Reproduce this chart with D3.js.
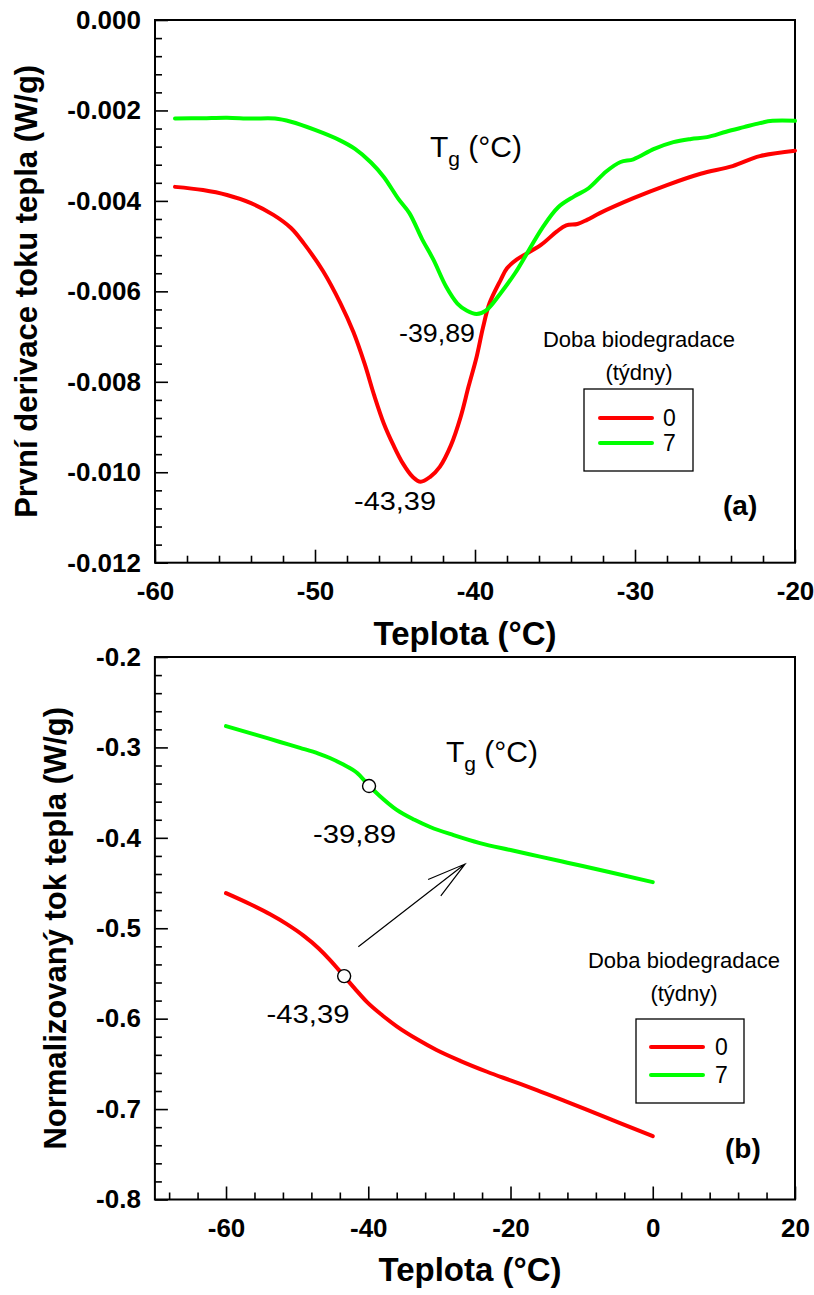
<!DOCTYPE html>
<html><head><meta charset="utf-8">
<script src="https://cdn.jsdelivr.net/npm/d3@7"></script>
<style>
body{margin:0;background:#fff}
svg{display:block}
text{font-family:"Liberation Sans",Arial,sans-serif;fill:#000}
</style>
</head><body>
<svg id="c" width="814" height="1295"></svg>
<script>
// ---------- data ----------
const seriesNames = ["0", "7"];
const seriesColors = ["#ff0000", "#00ff00"];
const legendTitle = ["Doba biodegradace", "(týdny)"];

// Panel (a): first derivative of heat flow
const derivTemp0 = [-58.75,-57,-55.5,-54,-52.6,-51.5,-50.7,-49.5,-48.4,-47.6,-46.9,-46.3,-45.7,-45.1,-44.5,-43.9,-43.4,-42.8,-42.2,-41.5,-40.9,-40.4,-39.9,-39.5,-39.1,-38.4,-38.0,-37.4,-35.9,-34.9,-34.3,-33.6,-33.0,-32.2,-30.1,-28.0,-25.9,-23.9,-22.2,-20.0];
const derivVal0  = [-0.00369,-0.00376,-0.00387,-0.00405,-0.00431,-0.0046,-0.00494,-0.00555,-0.00627,-0.0069,-0.0076,-0.0083,-0.00892,-0.0094,-0.00981,-0.0101,-0.01021,-0.0101,-0.00988,-0.0094,-0.00878,-0.0081,-0.00745,-0.0068,-0.00627,-0.00575,-0.00549,-0.0053,-0.00498,-0.00468,-0.00454,-0.00451,-0.00442,-0.00427,-0.00394,-0.00365,-0.0034,-0.00323,-0.00301,-0.00289];
const derivTemp7 = [-58.75,-57,-55.5,-54,-52.5,-51.5,-50,-48.5,-47.5,-46.5,-45.7,-44.8,-44.1,-43.3,-42.6,-41.8,-41.1,-40.5,-39.9,-39.3,-38.4,-37.5,-36.75,-35.8,-34.8,-33.8,-32.9,-31.8,-30.9,-30.1,-28.8,-27.6,-26.5,-25.5,-24.3,-23.2,-22.2,-21.4,-20.0];
const derivVal7  = [-0.00218,-0.00217,-0.00216,-0.00218,-0.00218,-0.00225,-0.00243,-0.00265,-0.00285,-0.00315,-0.00347,-0.00395,-0.00427,-0.00485,-0.0053,-0.0059,-0.00627,-0.00643,-0.0065,-0.00642,-0.00604,-0.0056,-0.00516,-0.0046,-0.00414,-0.0039,-0.00372,-0.00335,-0.00314,-0.00308,-0.00285,-0.0027,-0.00263,-0.00259,-0.00247,-0.00237,-0.00228,-0.00223,-0.00223];

// Panel (b): normalized heat flow
const flowTemp0 = [-60,-56.5,-53.8,-51.5,-49.1,-47,-45.4,-43.4,-41.8,-40.2,-38,-36,-33,-30.4,-27,-23.3,-20,-16.3,-12.5,-9.3,-4.6,0];
const flowVal0  = [-0.4612,-0.4738,-0.4846,-0.4952,-0.5082,-0.5221,-0.5349,-0.5529,-0.5676,-0.5815,-0.5965,-0.6085,-0.6234,-0.6347,-0.6469,-0.6587,-0.6683,-0.679,-0.6906,-0.7006,-0.7156,-0.73];
const flowTemp7 = [-60,-56,-52.4,-49.6,-47,-45.4,-43.5,-41.6,-39.85,-38.5,-36,-33.5,-31.3,-28,-24.3,-20,-16,-12,-6,0];
const flowVal7  = [-0.2765,-0.2855,-0.294,-0.3005,-0.3068,-0.3117,-0.319,-0.328,-0.3427,-0.3528,-0.369,-0.38,-0.388,-0.397,-0.4058,-0.4135,-0.4205,-0.4275,-0.438,-0.449];

// Tg markers / labels
const tgTemps = [-43.39, -39.89];
const tgLabels = ["-43,39", "-39,89"];
const tgFlowVals = [-0.5529, -0.3427];
const arrowFrom = [-41.4, -0.5205];
const arrowTo = [-26.4, -0.429];

// ticks
const xTicksA = [-60,-50,-40,-30,-20];
const yTicksA = [0,-0.002,-0.004,-0.006,-0.008,-0.010,-0.012];
const xTicksB = [-60,-40,-20,0,20];
const yTicksB = [-0.2,-0.3,-0.4,-0.5,-0.6,-0.7,-0.8];

// ---------- drawing ----------
const svg = d3.select("#c");
const zip = (xs, ys) => xs.map((x, i) => [x, ys[i]]);
const FONT = '"Liberation Sans",Arial,sans-serif';

function panel(cfg) {
  const x = d3.scaleLinear().domain(cfg.xDomain).range([cfg.left, cfg.right]);
  const y = d3.scaleLinear().domain(cfg.yDomain).range([cfg.bottom, cfg.top]);
  const g = svg.append("g");

  const styleTicks = s => s.selectAll("line").attr("stroke", "#000").attr("stroke-width", 1.6);
  const styleText = s => s.selectAll("text").attr("font-size", 26).attr("font-weight", "bold")
      .attr("font-family", FONT).attr("fill", "#000");
  // minor ticks
  g.append("g").attr("transform", `translate(0,${cfg.bottom})`)
    .call(d3.axisBottom(x).tickValues(cfg.xMinor).tickSizeInner(-7).tickSizeOuter(0).tickFormat(""))
    .call(s => s.select(".domain").remove()).call(styleTicks);
  g.append("g").attr("transform", `translate(${cfg.left},0)`)
    .call(d3.axisLeft(y).tickValues(cfg.yMinor).tickSizeInner(-7).tickSizeOuter(0).tickFormat(""))
    .call(s => s.select(".domain").remove()).call(styleTicks);
  // major ticks
  g.append("g").attr("transform", `translate(0,${cfg.bottom})`)
    .call(d3.axisBottom(x).tickValues(cfg.xTicks).tickSizeInner(-13).tickSizeOuter(0).tickPadding(19).tickFormat(cfg.xFmt))
    .call(s => s.select(".domain").remove()).call(styleTicks).call(styleText);
  g.append("g").attr("transform", `translate(${cfg.left},0)`)
    .call(d3.axisLeft(y).tickValues(cfg.yTicks).tickSizeInner(-13).tickSizeOuter(0).tickPadding(14).tickFormat(cfg.yFmt))
    .call(s => s.select(".domain").remove()).call(styleTicks).call(styleText);

  // frame
  g.append("rect").attr("x", cfg.left).attr("y", cfg.top)
    .attr("width", cfg.right - cfg.left).attr("height", cfg.bottom - cfg.top)
    .attr("fill", "none").attr("stroke", "#000").attr("stroke-width", 2);

  // axis titles
  g.append("text").attr("x", cfg.xTitleX).attr("y", cfg.xTitleY)
    .attr("text-anchor", "middle").attr("font-size", 33).attr("font-weight", "bold")
    .text("Teplota (°C)");
  g.append("text")
    .attr("transform", `translate(${cfg.yTitleX},${(cfg.top + cfg.bottom) / 2}) rotate(-90)`)
    .attr("text-anchor", "middle").attr("font-size", 31).attr("font-weight", "bold")
    .text(cfg.yTitle);

  // curves
  const line = d3.line().x(d => x(d[0])).y(d => y(d[1])).curve(cfg.curve);
  cfg.series.forEach((s, i) => {
    g.append("path").datum(s).attr("d", line)
      .attr("fill", "none").attr("stroke", seriesColors[i]).attr("stroke-width", 4)
      .attr("stroke-linejoin", "round").attr("stroke-linecap", "round");
  });
  return {x, y, g};
}

const fmtInt = d => String(d);

// Panel (a)
const A = panel({
  xDomain: [-60, -20], yDomain: [-0.012, 0],
  left: 155, right: 795, top: 20, bottom: 562.7,
  xTicks: xTicksA, yTicks: yTicksA,
  xMinor: d3.range(-60, -19.9, 2).filter(v => v % 10 !== 0),
  yMinor: d3.range(0, -0.01201, -0.0004).filter(v => Math.abs(Math.round(v / 0.002) * 0.002 - v) > 1e-7),
  xFmt: fmtInt, yFmt: d => d.toFixed(3),
  xTitleX: 465, xTitleY: 645, yTitleX: 37,
  yTitle: "První derivace toku tepla (W/g)",
  curve: d3.curveCatmullRom.alpha(0.5),
  series: [zip(derivTemp0, derivVal0), zip(derivTemp7, derivVal7)]
});

// Panel (b)
const B = panel({
  xDomain: [-70, 20], yDomain: [-0.8, -0.2],
  left: 154.9, right: 795, top: 657, bottom: 1199.5,
  xTicks: xTicksB, yTicks: yTicksB,
  xMinor: d3.range(-68, 20, 4).filter(v => v % 20 !== 0),
  yMinor: d3.range(-0.2, -0.8001, -0.02).filter(v => Math.abs(Math.round(v * 10) / 10 - v) > 1e-7),
  xFmt: fmtInt, yFmt: d => d.toFixed(1),
  xTitleX: 470, xTitleY: 1281, yTitleX: 66,
  yTitle: "Normalizovaný tok tepla (W/g)",
  curve: d3.curveMonotoneX,
  series: [zip(flowTemp0, flowVal0), zip(flowTemp7, flowVal7)]
});

// ---- annotations (a)
function tgTitle(g, x0, yBase) {
  const t = g.append("text").attr("x", x0).attr("y", yBase).attr("font-size", 30);
  t.append("tspan").text("T");
  t.append("tspan").attr("font-size", 21).attr("dy", 9).text("g");
  t.append("tspan").attr("dy", -9).text(" (°C)");
}
tgTitle(A.g, 430, 157);
A.g.append("text").attr("x", 354).attr("y", 510).attr("font-size", 25)
  .attr("textLength", 82).attr("lengthAdjust", "spacingAndGlyphs").text(tgLabels[0]);
A.g.append("text").attr("x", 399).attr("y", 341.5).attr("font-size", 25)
  .attr("textLength", 76).attr("lengthAdjust", "spacingAndGlyphs").text(tgLabels[1]);

function legend(g, cx, titleY, box, lineX1, lineX2, lineYs, labelX, labelYs) {
  g.append("text").attr("x", cx).attr("y", titleY).attr("text-anchor", "middle").attr("font-size", 22).text(legendTitle[0]);
  g.append("text").attr("x", cx).attr("y", titleY + 33).attr("text-anchor", "middle").attr("font-size", 22).text(legendTitle[1]);
  g.append("rect").attr("x", box[0]).attr("y", box[1]).attr("width", box[2]).attr("height", box[3])
    .attr("fill", "none").attr("stroke", "#000").attr("stroke-width", 1.3);
  seriesNames.forEach((n, i) => {
    g.append("line").attr("x1", lineX1).attr("x2", lineX2).attr("y1", lineYs[i]).attr("y2", lineYs[i])
      .attr("stroke", seriesColors[i]).attr("stroke-width", 4).attr("stroke-linecap", "round");
    g.append("text").attr("x", labelX).attr("y", labelYs[i]).attr("font-size", 23).text(n);
  });
}
legend(A.g, 639, 347, [584, 389, 109, 82], 600, 652, [418, 443], 663, [426, 451]);
A.g.append("text").attr("x", 723).attr("y", 515).attr("font-size", 28).attr("font-weight", "bold").text("(a)");

// ---- annotations (b)
tgTitle(B.g, 446, 762);
B.g.append("text").attr("x", 266.5).attr("y", 1023).attr("font-size", 26)
  .attr("textLength", 83).attr("lengthAdjust", "spacingAndGlyphs").text(tgLabels[0]);
B.g.append("text").attr("x", 313).attr("y", 843).attr("font-size", 26)
  .attr("textLength", 83).attr("lengthAdjust", "spacingAndGlyphs").text(tgLabels[1]);

// arrow
{
  const x1 = B.x(arrowFrom[0]), y1 = B.y(arrowFrom[1]);
  const x2 = B.x(arrowTo[0]), y2 = B.y(arrowTo[1]);
  const ang = Math.atan2(y1 - y2, x1 - x2);
  const L = 40, h = 15 * Math.PI / 180;
  const p = d3.path();
  p.moveTo(x1, y1); p.lineTo(x2, y2);
  p.moveTo(x2 + L * Math.cos(ang + h), y2 + L * Math.sin(ang + h)); p.lineTo(x2, y2);
  p.lineTo(x2 + L * Math.cos(ang - h), y2 + L * Math.sin(ang - h));
  B.g.append("path").attr("d", p.toString()).attr("fill", "none").attr("stroke", "#000").attr("stroke-width", 1.2);
}

// Tg markers
tgTemps.forEach((t, i) => {
  B.g.append("circle").attr("cx", B.x(t)).attr("cy", B.y(tgFlowVals[i])).attr("r", 6.5)
    .attr("fill", "#fff").attr("stroke", "#000").attr("stroke-width", 1.4);
});

legend(B.g, 684, 968, [636, 1019, 108, 84], 651, 703, [1047, 1075], 715, [1055, 1083]);
B.g.append("text").attr("x", 725).attr("y", 1158).attr("font-size", 28).attr("font-weight", "bold").text("(b)");
</script>
</body></html>
